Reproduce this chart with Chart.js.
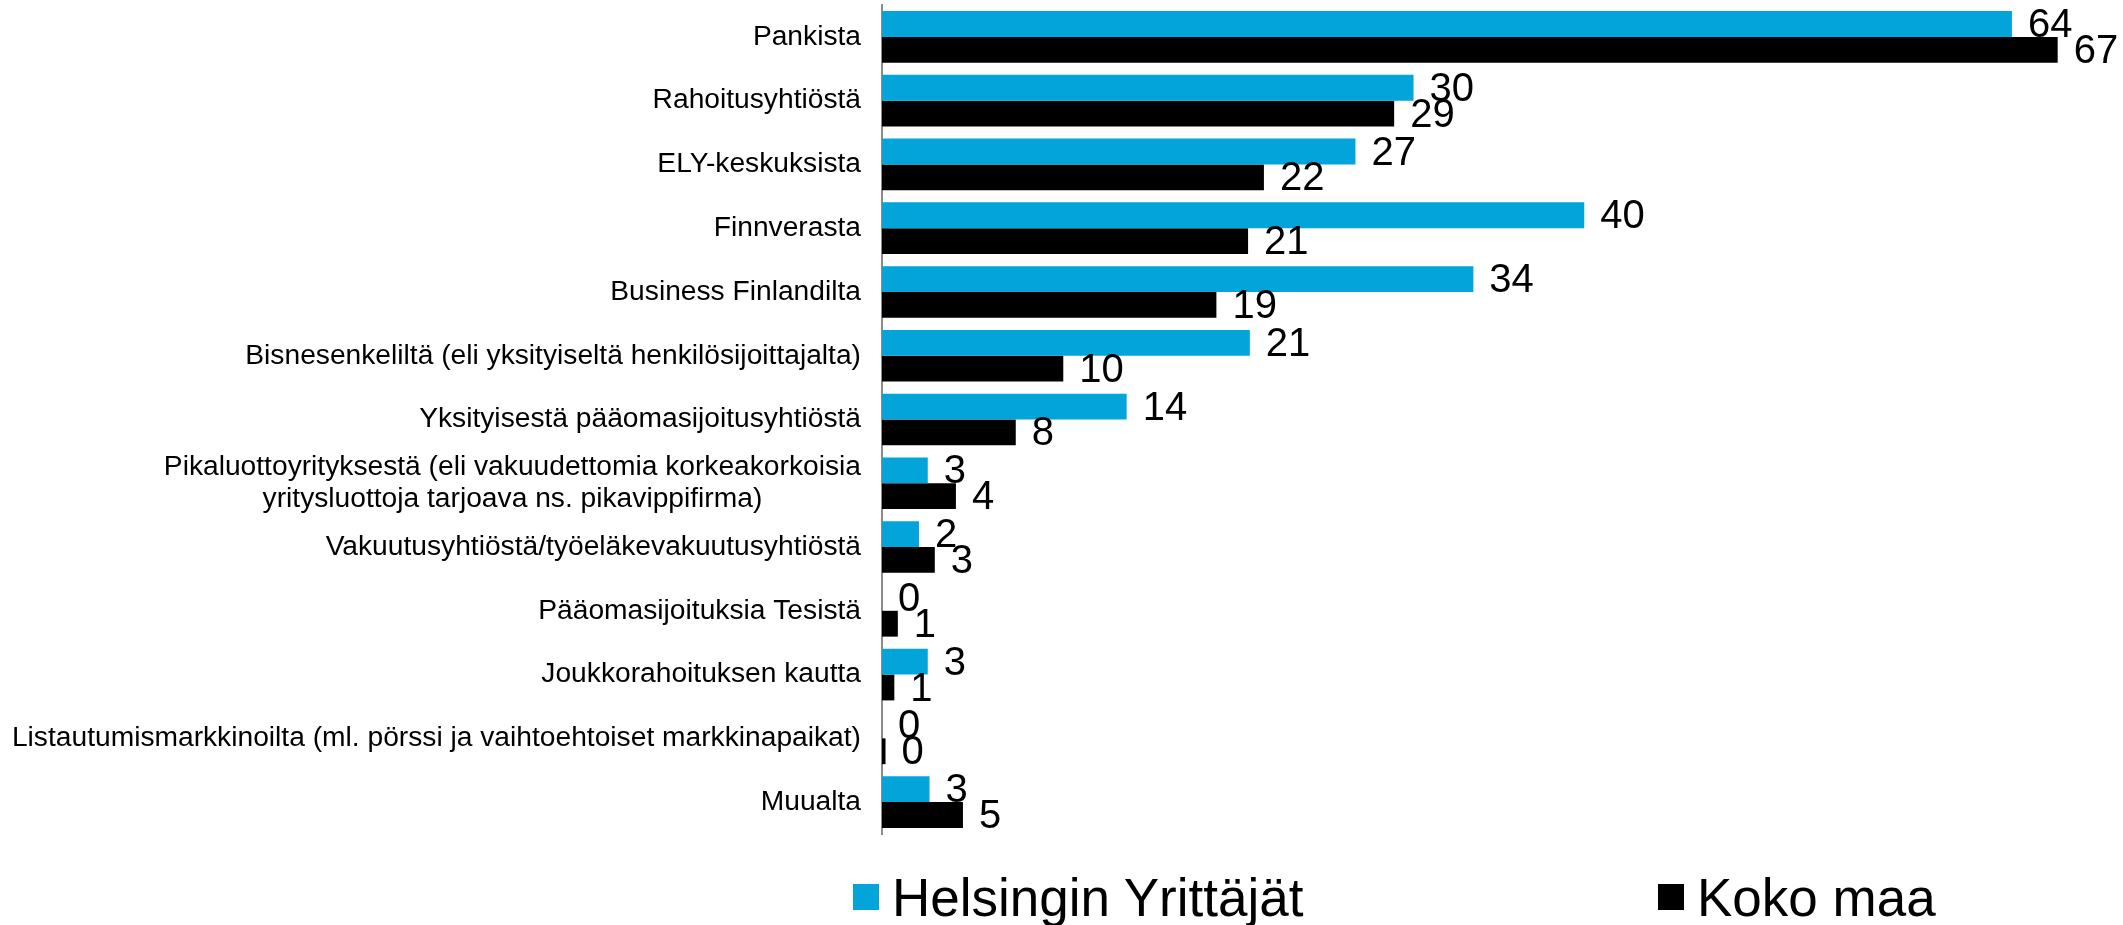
<!DOCTYPE html>
<html>
<head>
<meta charset="utf-8">
<script src="https://cdn.jsdelivr.net/npm/chart.js@4.4.1/dist/chart.umd.min.js"></script>
<style>
    html, body { margin: 0; padding: 0; background: #fff; }
    #wrap { position: relative; width: 2123px; height: 925px; font-family: "Liberation Sans", Arial, sans-serif; }
    #chart-box { position: absolute; left: 0; top: 0; width: 2123px; height: 850px; }
    #legend { position: absolute; left: 0; top: 862px; width: 2123px; height: 70px; }
    .legend-item { position: absolute; top: 0; height: 70px; display: flex; align-items: center; font-size: 53px; color: #000; white-space: nowrap; }
    .legend-swatch { width: 26px; height: 26px; margin-right: 13px; }
</style>
</head>
<body>
<div id="wrap">
    <div id="chart-box"><canvas id="funding-chart"></canvas></div>
    <div id="legend"></div>
</div>
<script>
// Rahoituksen lähteet - Helsingin Yrittäjät vs. koko maa (%)
const categories = [
    'Pankista',
    'Rahoitusyhtiöstä',
    'ELY-keskuksista',
    'Finnverasta',
    'Business Finlandilta',
    'Bisnesenkeliltä (eli yksityiseltä henkilösijoittajalta)',
    'Yksityisestä pääomasijoitusyhtiöstä',
    ['Pikaluottoyrityksestä (eli vakuudettomia korkeakorkoisia', 'yritysluottoja tarjoava ns. pikavippifirma)'],
    'Vakuutusyhtiöstä/työeläkevakuutusyhtiöstä',
    'Pääomasijoituksia Tesistä',
    'Joukkorahoituksen kautta',
    'Listautumismarkkinoilta (ml. pörssi ja vaihtoehtoiset markkinapaikat)',
    'Muualta'
];
const helsinkiValues = [64.2, 30.2, 26.9, 39.9, 33.6, 20.9, 13.9, 2.6, 2.1, 0, 2.6, 0, 2.7];
const kokoMaaValues = [66.8, 29.1, 21.7, 20.8, 19.0, 10.3, 7.6, 4.2, 3.0, 0.9, 0.7, 0.2, 4.6];
const seriesNames = ['Helsingin Yrittäjät', 'Koko maa'];
const seriesColors = ['#02A4DA', '#000000'];
const xMax = 70;

const fontFamily = '"Liberation Sans", Arial, sans-serif';

// Value labels at the end of each bar
const valueLabels = {
    id: 'valueLabels',
    afterDatasetsDraw(chart) {
        const ctx = chart.ctx;
        ctx.save();
        ctx.font = '40px ' + fontFamily;
        ctx.fillStyle = '#000';
        ctx.textAlign = 'left';
        ctx.textBaseline = 'middle';
        chart.data.datasets.forEach((ds, di) => {
            chart.getDatasetMeta(di).data.forEach((bar, i) => {
                ctx.fillText(String(Math.round(ds.data[i])), bar.x + 16, bar.y + 2);
            });
        });
        ctx.restore();
    }
};

// Category labels: block right aligned, lines centred within the block
const categoryLabels = {
    id: 'categoryLabels',
    afterDraw(chart) {
        const ctx = chart.ctx;
        const yScale = chart.scales.y;
        const right = chart.chartArea.left - 21;
        const lineHeight = 32.4;
        ctx.save();
        ctx.font = '28.2px ' + fontFamily;
        ctx.fillStyle = '#000';
        ctx.textBaseline = 'middle';
        ctx.textAlign = 'center';
        categories.forEach((label, i) => {
            const lines = Array.isArray(label) ? label : [label];
            const maxW = Math.max(...lines.map(l => ctx.measureText(l).width));
            const cx = right - maxW / 2;
            const cy = yScale.getPixelForTick(i);
            lines.forEach((line, j) => {
                ctx.fillText(line, cx, cy + (j - (lines.length - 1) / 2) * lineHeight);
            });
        });
        ctx.restore();
    }
};

// HTML legend
const legendBox = document.getElementById('legend');
const legendLefts = [853, 1658];
seriesNames.forEach((name, i) => {
    const item = document.createElement('div');
    item.className = 'legend-item';
    item.style.left = legendLefts[i] + 'px';
    item.innerHTML = '<span class="legend-swatch" style="background:' + seriesColors[i] + ';"></span>' + name;
    legendBox.appendChild(item);
});

new Chart(document.getElementById('funding-chart'), {
    type: 'bar',
    data: {
        labels: categories,
        datasets: [
            { label: seriesNames[0], data: helsinkiValues, backgroundColor: seriesColors[0], borderWidth: 0 },
            { label: seriesNames[1], data: kokoMaaValues, backgroundColor: seriesColors[1], borderWidth: 0 }
        ]
    },
    options: {
        indexAxis: 'y',
        responsive: true,
        maintainAspectRatio: false,
        animation: false,
        categoryPercentage: 0.81,
        barPercentage: 1.0,
        layout: { padding: { top: 5, bottom: 16, left: 0, right: 9 } },
        scales: {
            x: { display: false, min: 0, max: xMax },
            y: {
                grid: { display: false },
                border: { display: true, color: '#8c8c8c', width: 2 },
                ticks: { display: false },
                afterFit(scale) { scale.width = 882; }
            }
        },
        plugins: {
            legend: { display: false },
            tooltip: { enabled: false }
        }
    },
    plugins: [valueLabels, categoryLabels]
});
</script>
</body>
</html>
